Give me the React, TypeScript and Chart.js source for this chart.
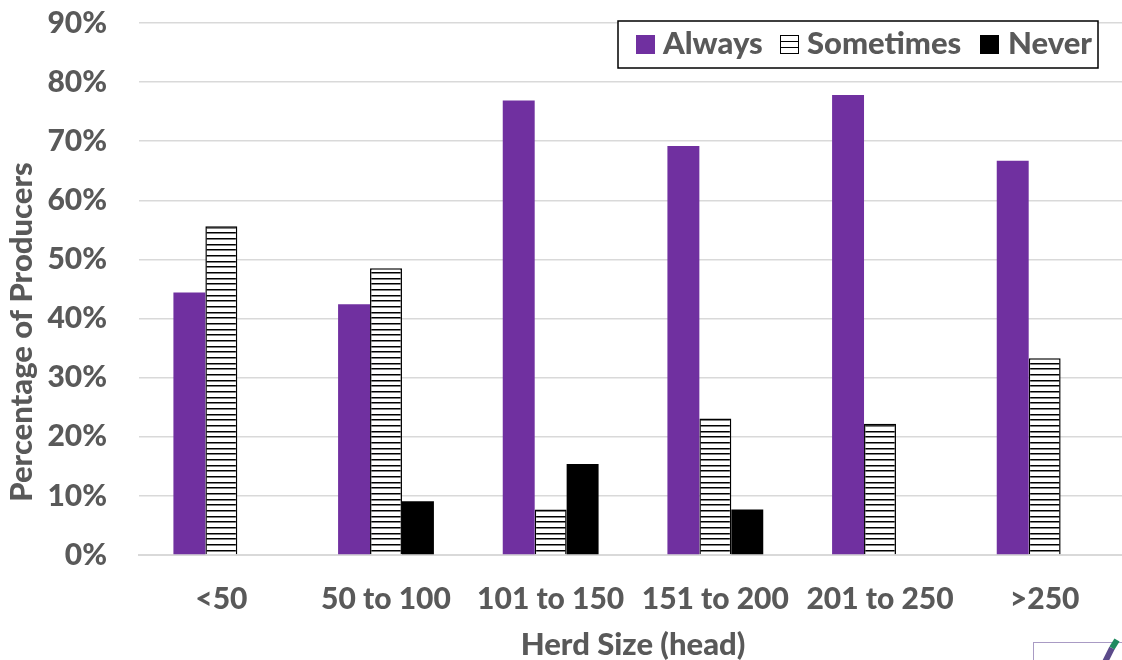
import React, { useEffect, useRef } from "react";
import { Chart, registerables } from "chart.js";

Chart.register(...registerables);

const categories = ["<50", "50 to 100", "101 to 150", "151 to 200", "201 to 250", ">250"];
const always = [44.4, 42.4, 76.9, 69.2, 77.8, 66.7];
const sometimes = [55.6, 48.5, 7.7, 23.1, 22.2, 33.3];
const never = [0, 9.1, 15.4, 7.7, 0, 0];
const yTitle = "Percentage of Producers";
const xTitle = "Herd Size (head)";

const FONT = "Lato";
const TEXT = "#595959";
const PURPLE = "#7030A0";

function stripes(ctx: CanvasRenderingContext2D) {
  const c = document.createElement("canvas");
  c.width = 4;
  c.height = 17;
  const g = c.getContext("2d")!;
  g.fillStyle = "#fff";
  g.fillRect(0, 0, 4, 17);
  g.fillStyle = "#000";
  g.fillRect(0, 0, 4, 1.5);
  g.fillRect(0, 6, 4, 1.5);
  g.fillRect(0, 11, 4, 1.5);
  return ctx.createPattern(c, "repeat")!;
}

const boxLegend = {
  id: "boxLegend",
  afterDraw(chart: any) {
    const { ctx } = chart;
    ctx.save();
    ctx.fillStyle = "#fff";
    ctx.strokeStyle = "#000";
    ctx.lineWidth = 1.5;
    ctx.fillRect(618, 21, 480, 47);
    ctx.strokeRect(618, 21, 480, 47);
    ctx.font = `900 31px ${FONT}`;
    ctx.textBaseline = "middle";
    const swatchX = [636, 780, 980];
    const textX = [663, 807, 1008];
    chart.data.datasets.forEach((d: any, i: number) => {
      ctx.fillStyle = i === 1 ? "#fff" : d.backgroundColor;
      ctx.fillRect(swatchX[i], 35, 19, 19);
      if (i === 1) {
        ctx.fillStyle = "#000";
        [41, 47].forEach((y) => ctx.fillRect(swatchX[i], y, 19, 1));
        ctx.strokeStyle = "#000";
        ctx.lineWidth = 1;
        ctx.strokeRect(swatchX[i] + 0.5, 35.5, 18, 18);
      }
      ctx.fillStyle = TEXT;
      ctx.fillText(d.label, textX[i], 44);
    });
    ctx.restore();
  },
};

const offsetYTitle = {
  id: "offsetYTitle",
  afterDraw(chart: any) {
    const { ctx } = chart;
    ctx.save();
    ctx.translate(22, 332);
    ctx.rotate(-Math.PI / 2);
    ctx.font = `900 31px ${FONT}`;
    ctx.fillStyle = TEXT;
    ctx.textAlign = "center";
    ctx.textBaseline = "middle";
    ctx.fillText(yTitle, 0, 0);
    ctx.restore();
  },
};

export default function App() {
  const ref = useRef<HTMLCanvasElement>(null);
  useEffect(() => {
    document.body.style.margin = "0";
    const ctx = ref.current!.getContext("2d")!;
    const axisFont = { family: FONT, size: 30, weight: 900 as const };
    const xTitleFont = { family: FONT, size: 31, weight: 900 as const, lineHeight: 1 };
    const common = { barPercentage: 1, categoryPercentage: 0.582, borderSkipped: false as const };
    const chart = new Chart(ctx, {
      type: "bar",
      data: {
        labels: categories,
        datasets: [
          { label: "Always", data: always, backgroundColor: PURPLE, borderWidth: 0, ...common },
          { label: "Sometimes", data: sometimes, backgroundColor: stripes(ctx), borderColor: "#000", borderWidth: { left: 1.5, right: 1.5, top: 1.5, bottom: 0 }, ...common },
          { label: "Never", data: never, backgroundColor: "#000", borderWidth: 0, ...common },
        ],
      },
      options: {
        animation: false,
        responsive: false,
        layout: { padding: { top: 23, right: 0, bottom: 0, left: 0 } },
        plugins: { legend: { display: false }, tooltip: { enabled: false } },
        scales: {
          x: {
            grid: { display: false, drawTicks: false },
            border: { color: "#D9D9D9", width: 2 },
            ticks: { color: TEXT, font: axisFont, padding: 26, maxRotation: 0, autoSkip: false },
            title: { display: true, text: xTitle, color: TEXT, font: xTitleFont, padding: { top: 14, bottom: 0 } },
            afterFit(s: any) { s.height = 105; },
          },
          y: {
            min: 0,
            max: 90,
            grid: { color: "#D9D9D9", lineWidth: 1.5, drawTicks: true, tickLength: 32, tickColor: "rgba(0,0,0,0)" },
            border: { display: false },
            ticks: { stepSize: 10, color: TEXT, font: axisFont, padding: 0, callback: (v: any) => `${v}%` },
            afterFit(s: any) { s.width = 139; },
          },
        },
      },
      plugins: [boxLegend, offsetYTitle],
    });
    return () => chart.destroy();
  }, []);
  return (
    <div style={{ position: "relative", width: 1122, height: 660, overflow: "hidden", background: "#fff" }}>
      <canvas ref={ref} width={1127} height={660} style={{ display: "block" }} />
      <div style={{ position: "absolute", left: 1033, top: 642, width: 90, height: 30, border: "1px solid #a99bc4", boxSizing: "border-box" }} />
      <svg width={30} height={30} style={{ position: "absolute", left: 1098, top: 636 }}>
        <line x1={6} y1={28} x2={14} y2={12} stroke="#5b4a8a" strokeWidth={6} />
        <line x1={14} y1={12} x2={19} y2={4} stroke="#1f8a5f" strokeWidth={6} />
      </svg>
    </div>
  );
}
